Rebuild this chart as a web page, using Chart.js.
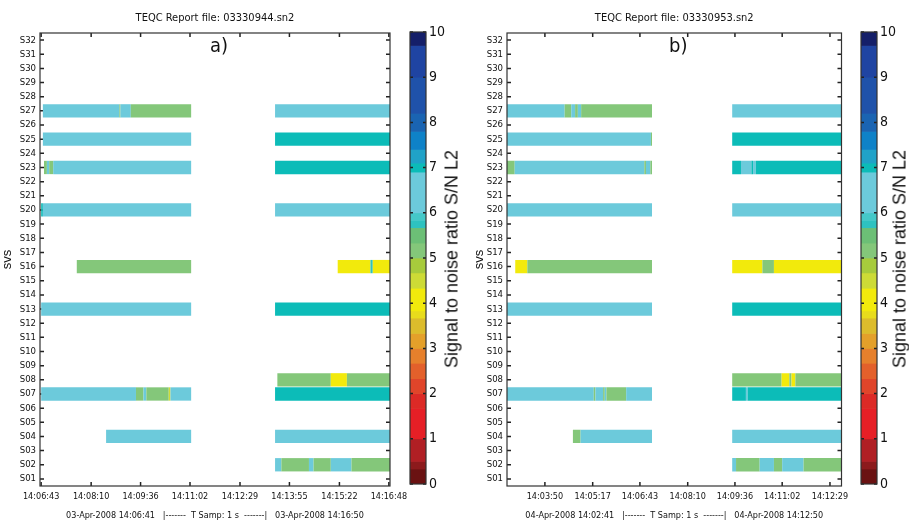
<!DOCTYPE html>
<html>
<head>
<meta charset="utf-8">
<script src="https://cdn.jsdelivr.net/npm/chart.js@4.4.1/dist/chart.umd.min.js"></script>
<style>
  body { margin: 0; background: #fff; }
  #wrap { position: relative; width: 909px; height: 523px; overflow: hidden; background: #fff; }
  canvas { position: absolute; top: 0; }
  .cbTitle {
    position: absolute; top: 259px;
    transform: translate(-50%, -50%) rotate(-90deg);
    white-space: nowrap; color: #111;
    font: 18px 'Liberation Sans', Arial, sans-serif;
  }
</style>
</head>
<body>
<div id="wrap">
  <canvas id="chartA" width="430" height="523" style="left:0"></canvas>
  <canvas id="chartB" width="420" height="523" style="left:460px"></canvas>
  <canvas id="barA" width="50" height="523" style="left:400px"></canvas>
  <canvas id="barB" width="50" height="523" style="left:850px"></canvas>
  <div class="cbTitle" style="left:452px">Signal to noise ratio S/N L2</div>
  <div class="cbTitle" style="left:900px">Signal to noise ratio S/N L2</div>
</div>
<script>
// satellites, top to bottom
const sats = [];
for (let n = 32; n >= 1; n--) sats.push('S' + String(n).padStart(2, '0'));

// file a)
const startA = '14:06:41', endA = '14:16:50';
const ticksA = ['14:06:43', '14:08:10', '14:09:36', '14:11:02', '14:12:29', '14:13:55', '14:15:22', '14:16:48'];
// [sat, from (s after start), to, S/N]
const segmentsA = [
  ['S27', 5, 138, 6.5], ['S27', 138, 140, 5.15], ['S27', 140, 158, 6.5], ['S27', 158, 263, 5.15], ['S27', 409, 609, 6.5],
  ['S25', 5, 263, 6.5], ['S25', 409, 609, 7.0],
  ['S23', 7, 12, 5.15], ['S23', 12, 16, 6.5], ['S23', 16, 23, 5.15], ['S23', 23, 263, 6.5], ['S23', 409, 609, 7.0],
  ['S20', 2, 5, 7.0], ['S20', 5, 263, 6.5], ['S20', 409, 609, 6.5],
  ['S16', 64, 263, 5.15], ['S16', 518, 575, 4.1], ['S16', 575, 579, 5.75], ['S16', 579, 609, 4.1],
  ['S13', 2, 263, 6.5], ['S13', 409, 609, 7.0],
  ['S08', 413, 506, 5.15], ['S08', 506, 534, 4.1], ['S08', 534, 609, 5.15],
  ['S07', 2, 167, 6.5], ['S07', 167, 180, 5.15], ['S07', 180, 185, 6.5], ['S07', 185, 224, 5.15],
  ['S07', 224, 227, 4.6], ['S07', 227, 263, 6.5], ['S07', 409, 609, 7.0],
  ['S04', 115, 263, 6.5], ['S04', 409, 609, 6.5],
  ['S02', 409, 420, 6.5], ['S02', 420, 468, 5.15], ['S02', 468, 476, 6.5], ['S02', 476, 506, 5.15],
  ['S02', 506, 542, 6.5], ['S02', 542, 609, 5.15]
];

// file b)
const startB = '14:02:41', endB = '14:12:50';
const ticksB = ['14:03:50', '14:05:17', '14:06:43', '14:08:10', '14:09:36', '14:11:02', '14:12:29'];
const segmentsB = [
  ['S27', 0, 105, 6.5], ['S27', 105, 117, 5.15], ['S27', 117, 124, 6.5], ['S27', 124, 129, 5.15],
  ['S27', 129, 135, 6.5], ['S27', 135, 264, 5.15], ['S27', 410, 609, 6.5],
  ['S25', 0, 262, 6.5], ['S25', 262, 264, 5.15], ['S25', 410, 609, 7.0],
  ['S23', 0, 14, 5.15], ['S23', 14, 250, 6.5], ['S23', 250, 253, 5.15], ['S23', 253, 261, 6.5], ['S23', 261, 264, 5.15],
  ['S23', 410, 426, 7.0], ['S23', 426, 445, 6.5], ['S23', 445, 448, 7.0], ['S23', 448, 453, 6.5], ['S23', 453, 609, 7.0],
  ['S20', 0, 264, 6.5], ['S20', 410, 609, 6.5],
  ['S16', 15, 37, 4.1], ['S16', 37, 264, 5.15], ['S16', 410, 465, 4.1], ['S16', 465, 486, 5.15], ['S16', 486, 609, 4.1],
  ['S13', 0, 264, 6.5], ['S13', 410, 609, 7.0],
  ['S08', 410, 500, 5.15], ['S08', 500, 514, 4.1], ['S08', 514, 518, 5.15], ['S08', 518, 525, 4.1], ['S08', 525, 609, 5.15],
  ['S07', 0, 158, 6.5], ['S07', 158, 161, 5.15], ['S07', 161, 175, 6.5], ['S07', 175, 178, 5.15], ['S07', 178, 181, 6.5],
  ['S07', 181, 217, 5.15], ['S07', 217, 264, 6.5], ['S07', 410, 435, 7.0], ['S07', 435, 438, 6.5], ['S07', 438, 609, 7.0],
  ['S04', 120, 134, 5.15], ['S04', 134, 264, 6.5], ['S04', 410, 609, 6.5],
  ['S02', 410, 417, 6.5], ['S02', 417, 460, 5.15], ['S02', 460, 486, 6.5], ['S02', 486, 501, 5.15],
  ['S02', 501, 540, 6.5], ['S02', 540, 609, 5.15]
];

// colour scale S/N 0..10
const cbEdges = [0, 0.33, 0.5, 1, 1.67, 2, 2.33, 2.67, 3, 3.33, 3.67, 3.83, 4.33, 4.67, 5, 5.33, 5.67, 5.83,
  6, 6.9, 7.1, 7.4, 7.8, 8.2, 9, 9.7, 10];
const cbColors = ['#6a1212', '#8c1a1c', '#b01f24', '#e61f26', '#dc2a26', '#e0452a', '#e3602b', '#e6802c', '#e4a02a',
  '#dcbc2c', '#e8dc1c', '#f2ea0c', '#cddb36', '#a7cb3c', '#84c77a', '#6cbf76', '#2ec2c0', '#44c8c8',
  '#6ccadb', '#0cbcb8', '#20a2c8', '#0e82c8', '#1a64b2', '#1f52aa', '#1f44a2', '#151f69'];

const narrow = "'Liberation Sans Narrow', 'DejaVu Sans Condensed', 'Liberation Sans', sans-serif";
Chart.defaults.font.family = narrow;
Chart.defaults.color = '#111';

function toSec(s) {
  const [h, m, x] = s.split(':').map(Number);
  return h * 3600 + m * 60 + x;
}

function snrColor(v) {
  for (let i = 0; i < cbColors.length; i++) {
    if (v >= cbEdges[i] && v < cbEdges[i + 1]) return cbColors[i];
  }
  return cbColors[cbColors.length - 1];
}

// inner tick marks + box, matlab style
function drawTicks(chart, o) {
  const { ctx, chartArea: a, scales } = chart;
  const len = o.tickLen || 4;
  ctx.save();
  ctx.strokeStyle = '#222';
  ctx.lineWidth = 1.5;
  ctx.beginPath();
  if (o.xTicks !== false) {
    scales.x.ticks.forEach((t, i) => {
      const px = scales.x.getPixelForTick(i);
      ctx.moveTo(px, a.bottom); ctx.lineTo(px, a.bottom - len);
      ctx.moveTo(px, a.top); ctx.lineTo(px, a.top + len);
    });
  }
  scales.y.ticks.forEach((t, i) => {
    const py = scales.y.getPixelForTick(i);
    ctx.moveTo(a.left, py); ctx.lineTo(a.left + len, py);
    ctx.moveTo(a.right, py); ctx.lineTo(a.right - len, py);
  });
  ctx.stroke();
  ctx.restore();
}

const frame = {
  id: 'frame',
  beforeDatasetsDraw(chart, args, o) {
    if (!o.ticksOnTop) drawTicks(chart, o);
  },
  afterDatasetsDraw(chart, args, o) {
    if (o.ticksOnTop) drawTicks(chart, o);
    const { ctx, chartArea: a } = chart;
    ctx.save();
    ctx.strokeStyle = '#333';
    ctx.lineWidth = 1.2;
    ctx.strokeRect(a.left, a.top, a.right - a.left, a.bottom - a.top);
    if (o.tag) {
      ctx.fillStyle = '#111';
      ctx.font = '20px ' + narrow;
      ctx.textAlign = 'center';
      ctx.textBaseline = 'middle';
      ctx.fillText(o.tag, (a.left + a.right) / 2 + 4, a.top + 14);
    }
    ctx.restore();
  }
};

function panel(id, title, tag, start, end, ticks, segs, footer, padLeft, padRight, yWidth) {
  const t0 = toSec(start);
  const tickVals = ticks.map(t => toSec(t) - t0);
  return new Chart(document.getElementById(id), {
    type: 'bar',
    data: {
      labels: sats,
      datasets: [{
        data: segs.map(s => ({ y: s[0], x: [s[1], s[2]], snr: s[3] })),
        backgroundColor: c => c.raw ? snrColor(c.raw.snr) : '#000',
        barPercentage: 0.94,
        categoryPercentage: 1,
        borderWidth: 0
      }]
    },
    options: {
      indexAxis: 'y',
      responsive: false,
      animation: false,
      layout: { padding: { left: padLeft, right: padRight, top: 0, bottom: 0 } },
      scales: {
        x: {
          type: 'linear',
          min: 0,
          max: toSec(end) - t0,
          grid: { display: false, drawTicks: false },
          border: { display: false },
          afterBuildTicks: s => { s.ticks = tickVals.map(v => ({ value: v })); },
          afterFit: s => { s.height = 37; s.paddingLeft = 0; s.paddingRight = 0; },
          ticks: { autoSkip: false, maxRotation: 0, padding: 5, font: { size: 9 }, callback: (v, i) => ticks[i] },
          title: { display: true, text: footer, font: { size: 9 }, padding: { top: 0, bottom: 2 } }
        },
        y: {
          type: 'category',
          grid: { display: false, drawTicks: false },
          border: { display: false },
          afterFit: s => { s.width = yWidth; },
          ticks: { autoSkip: false, padding: 4, font: { size: 9.5 } },
          title: { display: true, text: 'svs', font: { size: 13, family: "'Liberation Sans', Arial, sans-serif" }, padding: 0 }
        }
      },
      plugins: {
        legend: { display: false },
        tooltip: { enabled: false },
        title: {
          display: true, text: title, fullSize: false, color: '#111',
          font: { size: 11, weight: 'normal' }, padding: { top: 12, bottom: 7.8 }
        },
        frame: { tag: tag }
      }
    },
    plugins: [frame]
  });
}

function colorbar(id, padLeft, yWidth) {
  return new Chart(document.getElementById(id), {
    type: 'bar',
    data: {
      labels: ['cb'],
      datasets: [{
        data: cbColors.map((c, i) => ({ x: 'cb', y: [cbEdges[i], cbEdges[i + 1]] })),
        backgroundColor: cbColors,
        barPercentage: 1,
        categoryPercentage: 1,
        borderWidth: 0
      }]
    },
    options: {
      responsive: false,
      animation: false,
      layout: { padding: { left: padLeft, right: 0, top: 32, bottom: 39 } },
      scales: {
        x: { display: false },
        y: {
          position: 'right', min: 0, max: 10,
          grid: { display: false, drawTicks: false },
          border: { display: false },
          afterFit: s => { s.width = yWidth; },
          ticks: { stepSize: 1, padding: 3, font: { size: 14 } }
        }
      },
      plugins: {
        legend: { display: false },
        tooltip: { enabled: false },
        frame: { xTicks: false, ticksOnTop: true, tickLen: 3 }
      }
    },
    plugins: [frame]
  });
}

panel('chartA', 'TEQC Report file: 03330944.sn2', 'a)', startA, endA, ticksA, segmentsA,
  '03-Apr-2008 14:06:41   |-------  T Samp: 1 s  -------|   03-Apr-2008 14:16:50', 0, 40, 40);
panel('chartB', 'TEQC Report file: 03330953.sn2', 'b)', startB, endB, ticksB, segmentsB,
  '04-Apr-2008 14:02:41   |-------  T Samp: 1 s  -------|   04-Apr-2008 14:12:50', 12, 38.5, 35);
colorbar('barA', 10, 24);
colorbar('barB', 11, 23);
</script>
</body>
</html>
